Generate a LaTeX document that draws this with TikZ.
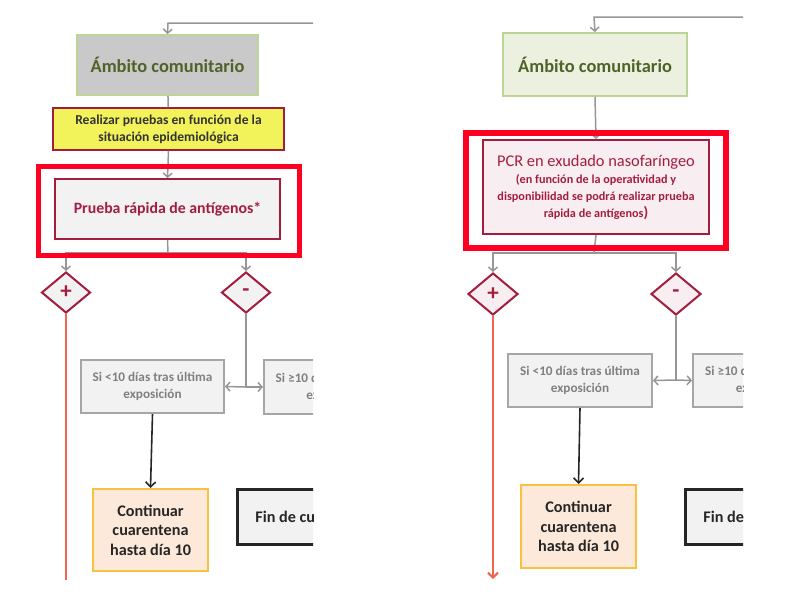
\documentclass[tikz,border=0pt]{standalone}
\usepackage{fontspec}
\setmainfont{Carlito}
\usetikzlibrary{shapes.geometric,arrows.meta}
\definecolor{ambgray}{RGB}{201,201,201}
\definecolor{ambgreen}{RGB}{235,241,222}
\definecolor{ambline}{RGB}{190,212,150}
\definecolor{ambtext}{RGB}{79,98,40}
\definecolor{testred}{RGB}{163,30,62}
\definecolor{framered}{RGB}{255,0,34}
\definecolor{epiyellow}{RGB}{242,242,90}
\definecolor{boxgray}{RGB}{242,242,242}
\definecolor{pcrpink}{RGB}{248,238,241}
\definecolor{linegray}{RGB}{150,150,150}
\definecolor{infogray}{RGB}{166,166,166}
\definecolor{infotext}{RGB}{128,128,128}
\definecolor{posline}{RGB}{240,100,80}
\definecolor{quarfill}{RGB}{253,233,217}
\definecolor{quarline}{RGB}{250,192,64}

\tikzset{
  ambito/.style={draw=ambline, line width=2pt, text=ambtext,
    font=\fontsize{18.4}{21}\selectfont\bfseries},
  epibox/.style={draw=testred, line width=1.5pt, fill=epiyellow, text=black!80,
    align=center, font=\fontsize{13.6}{17}\selectfont\bfseries},
  testbox/.style={draw=testred, line width=2pt, text=testred, align=center},
  highlight/.style={draw=framered, line width=5.5pt},
  decision/.style={diamond, draw=testred, line width=2pt, inner sep=0pt,
    text=testred, font=\fontsize{23}{23}\selectfont\bfseries},
  infobox/.style={draw=infogray, line width=2pt, fill=boxgray, text=infotext,
    align=center, font=\fontsize{13.2}{17}\selectfont\bfseries},
  quarbox/.style={draw=quarline, line width=2pt, fill=quarfill, text=black!85,
    align=center, font=\fontsize{16.2}{19.5}\selectfont\bfseries},
  endbox/.style={draw=black!85, line width=3pt, fill=boxgray, text=black!85,
    font=\fontsize{16.2}{19}\selectfont\bfseries},
  flow/.style={draw=linegray, line width=1.5pt, -{Straight Barb[length=4pt,width=9pt]}},
  link/.style={draw=linegray, line width=1.5pt},
  posflow/.style={draw=posline, line width=2pt, -{Straight Barb[length=5pt,width=10pt]}},
  nextflow/.style={draw=black!85, line width=1.6pt, -{Straight Barb[length=5pt,width=10pt]}}
}

\begin{document}
\begin{tikzpicture}[x=1pt,y=-1pt]
\useasboundingbox (0,0) rectangle (799,613);

\begin{scope}
\clip (0,0) rectangle (313,579);
\node[ambito, fill=ambgray, minimum width=181pt, minimum height=60pt] (amb1) at (167.5,65) {Ámbito comunitario};
\node[epibox, minimum width=231pt, minimum height=42pt] (epi1) at (168.5,129) {Realizar pruebas en función de la\\situación epidemiológica};
\node[testbox, fill=boxgray, minimum width=225pt, minimum height=60pt,
  font=\fontsize{15.8}{19}\selectfont\bfseries] (test1) at (167.5,209) {Prueba rápida de antígenos*};
\node[decision, fill=boxgray, minimum width=49pt, minimum height=41pt] (pos1) at (66,292.5) {+};
\node[decision, fill=boxgray, minimum width=49pt, minimum height=41pt] (neg1) at (246,292.5) {-};
\node[infobox, minimum width=143pt, minimum height=53pt] (less1) at (152.5,386.5) {Si <10 días tras última\\exposición};
\node[infobox, minimum width=143pt, minimum height=54pt, anchor=west] (more1) at (263,387) {Si ≥10 días tras última\\exposición};
\node[quarbox, minimum width=115pt, minimum height=82pt] (quar1) at (150.5,530) {Continuar\\cuarentena\\hasta día 10};
\node[endbox, minimum width=156pt, minimum height=55pt, anchor=west] (end1) at (236,516.5) {Fin de cuarentena};

\coordinate (in1) at (330,23);
\coordinate (split1) at (168,253);
\coordinate (join1) at (246,387);
\coordinate (down1) at (66,590);

\draw[flow] (in1) -- (168,23) -- (amb1.north);
\draw[link] (amb1) -- (epi1);
\draw[flow] (epi1.south) -- (test1.north);
\draw[link] (test1.south) -- (split1);
\draw[flow] (split1) -| (pos1.north);
\draw[flow] (split1) -| (neg1.north);
\draw[link] (neg1.south) -- (join1);
\draw[flow] (join1) -- (less1.east);
\draw[flow] (join1) -- (more1.west);
\draw[nextflow] (less1.south) -- (quar1.north);
\draw[posflow] (pos1.south) -- (down1);
\draw[highlight] (38.5,166.5) rectangle (299.5,255.5);
\end{scope}

\begin{scope}
\clip (430,0) rectangle (743,590);
\node[ambito, fill=ambgreen, minimum width=184pt, minimum height=63pt] (amb2) at (595,64.5) {Ámbito comunitario};
\node[testbox, fill=pcrpink, minimum width=226pt, minimum height=94pt,
  font=\fontsize{16.4}{17}\selectfont] (test2) at (596,187)
  {PCR en exudado nasofaríngeo\\
   \fontsize{12.2}{14.5}\selectfont\bfseries (en función de la operatividad y\\
   \fontsize{12.2}{14.5}\selectfont\bfseries disponibilidad se podrá realizar prueba\\
   \fontsize{12.2}{17}\selectfont\bfseries rápida de antígenos\fontsize{15}{17}\selectfont)};
\node[decision, fill=pcrpink, minimum width=50pt, minimum height=42pt] (pos2) at (493,294) {+};
\node[decision, fill=pcrpink, minimum width=50pt, minimum height=42pt] (neg2) at (676,294) {-};
\node[infobox, minimum width=144pt, minimum height=53pt] (less2) at (580,380.5) {Si <10 días tras última\\exposición};
\node[infobox, minimum width=144pt, minimum height=53pt, anchor=west] (more2) at (692,380.5) {Si ≥10 días tras última\\exposición};
\node[quarbox, minimum width=115pt, minimum height=83pt] (quar2) at (578.5,526.5) {Continuar\\cuarentena\\hasta día 10};
\node[endbox, minimum width=156pt, minimum height=55pt, anchor=west] (end2) at (684,516.5) {Fin de cuarentena};

\coordinate (in2) at (760,17);
\coordinate (split2) at (594,253);
\coordinate (join2) at (676,380);
\coordinate (down2) at (493,579);

\draw[flow] (in2) -- (594,17) -- (amb2.north);
\draw[flow] (amb2.south) -- (test2.north);
\draw[link] (test2.south) -- (split2);
\draw[flow] (split2) -| (pos2.north);
\draw[flow] (split2) -| (neg2.north);
\draw[link] (neg2.south) -- (join2);
\draw[flow] (join2) -- (less2.east);
\draw[flow] (join2) -- (more2.west);
\draw[nextflow] (less2.south) -- (quar2.north);
\draw[posflow] (pos2.south) -- (down2);
\draw[highlight] (466,133) rectangle (726,248);
\end{scope}
\end{tikzpicture}
\end{document}
